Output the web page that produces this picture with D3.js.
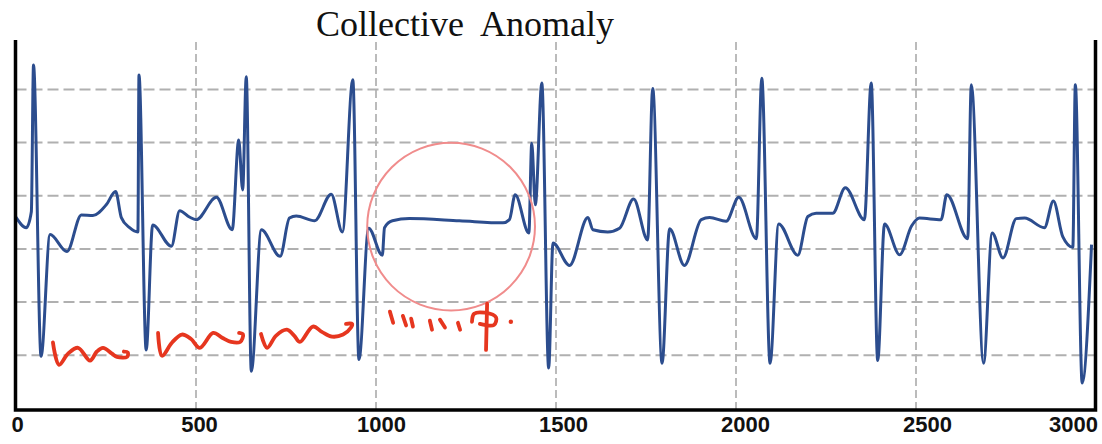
<!DOCTYPE html>
<html>
  <head>
    <meta charset="utf-8">
    <title>Collective Anomaly</title>
    <script src="https://cdn.jsdelivr.net/npm/d3@7"></script>
    <style>
      body { margin: 0; background: #fff; }
      .grid line { stroke: #b0b0b0; }
      .grid .domain { display: none; }
      .xlabels text { font-family: "Liberation Sans", Arial, sans-serif; font-weight: bold; font-size: 22px; fill: #111; }
      .xlabels .domain { display: none; }
    </style>
  </head>

  <body>
    <div id="container"></div>

    <script>
      // data (sample index, signal value)
      sampleIdx = [0, 30, 44, 50, 71, 96, 143, 183, 215, 252, 278, 294, 317, 340, 343, 363, 381, 433, 456, 483,
        502, 558, 602, 620, 631, 641, 655, 683, 735, 761, 780, 831, 877, 908, 937, 954, 981, 1019, 1025, 1047,
        1094, 1233, 1354, 1372, 1388, 1426, 1434, 1444, 1462, 1481, 1493, 1539, 1590, 1604, 1645, 1678, 1717, 1756, 1770, 1796,
        1817, 1858, 1905, 1928, 1974, 2009, 2058, 2073, 2096, 2120, 2173, 2201, 2224, 2270, 2305, 2358, 2377, 2395, 2414, 2456,
        2489, 2511, 2571, 2587, 2645, 2655, 2689, 2713, 2743, 2780, 2803, 2858, 2883, 2909, 2937, 2944, 2963, 2989];
      signal = [2.60, 2.39, 2.69, 5.45, -0.03, 2.26, 1.94, 2.63, 2.62, 2.82, 3.07, 2.58, 2.39, 2.31, 5.26, 0.09, 2.44, 2.04, 2.71, 2.59,
        2.54, 2.96, 2.35, 4.04, 3.10, 5.23, -0.31, 2.35, 1.85, 2.57, 2.61, 2.52, 3.02, 2.31, 5.17, -0.09, 2.38, 1.87, 2.39, 2.52,
        2.56, 2.52, 2.48, 2.54, 3.01, 2.29, 3.98, 2.82, 5.11, -0.25, 2.10, 1.68, 2.58, 2.35, 2.31, 2.38, 2.93, 2.16, 5.01, -0.16,
        2.37, 1.68, 2.54, 2.58, 2.51, 2.96, 2.18, 5.20, -0.16, 2.46, 1.87, 2.60, 2.66, 2.66, 3.14, 2.54, 5.11, -0.11, 2.46, 1.88,
        2.42, 2.57, 2.54, 3.01, 2.18, 5.08, -0.16, 2.29, 1.82, 2.56, 2.57, 2.39, 2.89, 2.22, 2.02, 5.08, -0.53, 2.07];

      xTicks = [0, 500, 1000, 1500, 2000, 2500, 3000];
      yGrid = [0, 1, 2, 3, 4, 5];
      title = "Collective  Anomaly";

      // annotation: anomaly circle (centre in data units, radius in samples)
      anomalyCentre = [1210, 2.41];
      anomalyRadius = 233;

      // hand-drawn red marks under the beats (data units)
      scribbles = [
        [[104, 0.23], [121, -0.19], [146, 0.02], [174, 0.13], [207, -0.11], [226, 0.06], [243, 0.13], [268, 0.02], [282, -0.04], [310, -0.04], [312, 0.04], [301, 0.06]],
        [[396, 0.41], [407, -0.02], [435, 0.23], [462, 0.38], [487, 0.30], [512, 0.13], [549, 0.41], [574, 0.32], [599, 0.24], [624, 0.24], [632, 0.38], [621, 0.41]],
        [[682, 0.39], [699, 0.13], [724, 0.36], [754, 0.47], [774, 0.36], [790, 0.24], [826, 0.53], [851, 0.43], [879, 0.34], [910, 0.38], [932, 0.51], [935, 0.58], [918, 0.58]],
        [[1040, 0.81], [1049, 0.60]],
        [[1076, 0.73], [1085, 0.55]],
        [[1099, 0.68], [1104, 0.53]],
        [[1151, 0.64], [1157, 0.47]],
        [[1179, 0.66], [1193, 0.51]],
        [[1229, 0.60], [1235, 0.47]],
        [[1310, 0.96], [1307, 0.09]],
        [[1268, 0.62], [1274, 0.77], [1304, 0.79], [1335, 0.70], [1329, 0.56], [1290, 0.58]]
      ];
      scribbleDot = [1376, 0.62];

      width = 1102;
      height = 444;

      svg = d3.select("#container")
        .append("svg")
          .attr("width", width)
          .attr("height", height);

      xScale = d3.scaleLinear()
        .domain([0, 3000])
        .range([15.5, 1095.5]);
      yScale = d3.scaleLinear()
        .domain([-1.04, 5.92])
        .range([410, 40]);

      // labels sit slightly right of the gridlines in the source
      labelScale = xScale.copy().range([17, 1109]);

      // grid
      svg.append("g")
        .classed("grid", true)
        .attr("transform", "translate(" + xScale.range()[0] + ", 0)")
        .call(d3.axisLeft(yScale)
          .tickValues(yGrid)
          .tickSizeInner(xScale.range()[0] - xScale.range()[1])
          .tickSizeOuter(0)
          .tickFormat("")
        )
        .selectAll("line")
          .style("stroke-width", 2)
          .style("stroke-dasharray", "11,5");

      svg.append("g")
        .classed("grid", true)
        .attr("transform", "translate(0, " + yScale.range()[0] + ")")
        .call(d3.axisBottom(xScale)
          .tickValues(xTicks.slice(1, -1))
          .tickSizeInner(yScale.range()[1] - yScale.range()[0])
          .tickSizeOuter(0)
          .tickFormat("")
        )
        .selectAll("line")
          .style("stroke-width", 1.7)
          .style("stroke-dasharray", "8,4");

      // signal
      line = d3.line()
        .x(i => xScale(sampleIdx[i]))
        .y(i => yScale(signal[i]))
        .curve(d3.curveMonotoneX);

      svg.append("path")
        .datum(d3.range(sampleIdx.length))
        .attr("d", line)
        .style("fill", "none")
        .style("stroke", "#2c4d8e")
        .style("stroke-width", 3)
        .style("stroke-linejoin", "round");

      // anomaly circle
      svg.append("circle")
        .attr("cx", xScale(anomalyCentre[0]))
        .attr("cy", yScale(anomalyCentre[1]))
        .attr("r", xScale(anomalyRadius) - xScale(0))
        .style("fill", "none")
        .style("stroke", "#f08c8c")
        .style("stroke-width", 2);

      // red scribbles
      scribbleLine = d3.line()
        .x(d => xScale(d[0]))
        .y(d => yScale(d[1]))
        .curve(d3.curveCatmullRom);

      svg.append("g")
        .selectAll("path")
          .data(scribbles)
        .enter().append("path")
          .attr("d", scribbleLine)
          .style("fill", "none")
          .style("stroke", "#e6361f")
          .style("stroke-width", 3.8)
          .style("stroke-linecap", "round")
          .style("stroke-linejoin", "round");

      svg.append("circle")
        .attr("cx", xScale(scribbleDot[0]))
        .attr("cy", yScale(scribbleDot[1]))
        .attr("r", 2.2)
        .style("fill", "#e6361f");

      // axes frame (left, bottom, right)
      x0 = xScale.range()[0], x1 = xScale.range()[1];
      y0 = yScale.range()[0], y1 = yScale.range()[1];
      svg.append("path")
        .attr("d", "M" + x0 + "," + y1 + "V" + y0 + "H" + x1 + "V" + y1)
        .style("fill", "none")
        .style("stroke", "#000")
        .style("stroke-width", 3.5);

      // x labels
      xLabels = svg.append("g")
        .classed("xlabels", true)
        .attr("transform", "translate(0, " + y0 + ")")
        .call(d3.axisBottom(labelScale)
          .tickValues(xTicks)
          .tickSize(0)
          .tickPadding(6)
          .tickFormat(d3.format("d"))
        );
      xLabels.selectAll("text")
        .attr("dy", "0.71em")
        .filter(d => d === 3000)
          .attr("text-anchor", "end")
          .attr("x", x1 + 2 - labelScale(3000));

      // title
      svg.append("text")
        .attr("x", 465)
        .attr("y", 36)
        .attr("text-anchor", "middle")
        .style("white-space", "pre")
        .style("font-family", "'Liberation Serif', 'Times New Roman', serif")
        .style("font-size", "36px")
        .style("fill", "#111")
        .text(title);
    </script>
  </body>
</html>
